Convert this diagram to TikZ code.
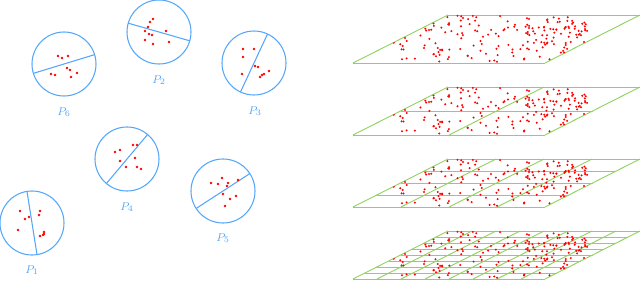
\documentclass[tikz,border=0pt]{standalone}
\usetikzlibrary{positioning}
\usepackage{amsmath}
\definecolor{partcol}{RGB}{85,165,250}
\definecolor{gridcol}{RGB}{145,210,95}

\begin{document}
\begin{tikzpicture}[x=0.025cm,y=0.025cm,
  part/.style={circle,draw=partcol,line width=0.75pt,minimum size=1.6cm,
               inner sep=0pt,outer sep=0pt},
  cut/.style={partcol,line width=0.75pt},
  plabel/.style={font=\footnotesize,text=partcol},
  dot/.style={fill=red},
  gridline/.style={gridcol,line width=0.65pt}]
  \useasboundingbox (0,0) rectangle (640,298);

  % left: the six parts with their cutting lines
  \node[part] (c1) at (32,75) {};
  \node[part] (c2) at (159,266) {};
  \node[part] (c3) at (254,235) {};
  \node[part] (c4) at (127,139) {};
  \node[part] (c5) at (223,107) {};
  \node[part] (c6) at (64,234) {};
  \node[plabel] (l1) at (32,28) {$P_1$};
  \node[plabel] (l2) at (159,218) {$P_2$};
  \node[plabel] (l3) at (255,187) {$P_3$};
  \node[plabel] (l4) at (127,91) {$P_4$};
  \node[plabel] (l5) at (223,60) {$P_5$};
  \node[plabel] (l6) at (64,186) {$P_6$};
  \draw[cut] (c1.99) -- (c1.279);
  \draw[cut] (c2.164) -- (c2.-16);
  \draw[cut] (c3.65) -- (c3.245);
  \draw[cut] (c4.50) -- (c4.230);
  \draw[cut] (c5.33) -- (c5.213);
  \draw[cut] (c6.197) -- (c6.17);

  % points of each part
  \foreach \dx/\dy in {-12/12,8/12,7/8,-3/6,-7/4,-14/-7,8/-13,11/-12,12/-11,12/-9}
    \fill[dot] ([shift={(\dx,\dy)}]c1.center) circle[radius=0.9pt];
  \foreach \dx/\dy in {-6/13,-9/10,-11/5,-14/1,-10/-2,-7/-3,7/1,-14/-8,-6/-12,10/-10}
    \fill[dot] ([shift={(\dx,\dy)}]c2.center) circle[radius=0.9pt];
  \foreach \dx/\dy in {-11/14,0/14,-11/6,1/-3,4/-4,15/-8,10/-11,8/-12,6/-14,-12/-11}
    \fill[dot] ([shift={(\dx,\dy)}]c3.center) circle[radius=0.9pt];
  \foreach \dx/\dy in {6/14,10/14,-7/9,-12/7,8/1,-7/-2,-1/-8,10/-8,14/-10}
    \fill[dot] ([shift={(\dx,\dy)}]c4.center) circle[radius=0.9pt];
  \foreach \dx/\dy in {-1/13,-12/8,-5/7,5/8,4/5,15/11,0/-3,13/-5,7/-8,2/-15}
    \fill[dot] ([shift={(\dx,\dy)}]c5.center) circle[radius=0.9pt];
  \foreach \dx/\dy in {-6/8,-2/6,4/8,3/-4,6/-6,13/-9,-13/-10,-9/-11,7/-13}
    \fill[dot] ([shift={(\dx,\dy)}]c6.center) circle[radius=0.9pt];

  % right: the same points on ever finer grids
  \foreach \n [count=\k] in {1,2,4,8}{
    \pgfmathsetmacro\base{235-72*(\k-1)}
    \begin{scope}[shift={(353,\base)},x={(4.8cm,0cm)},y={(2.375cm,1.2cm)}]
      \foreach \i in {0,...,\n}{
        \draw[gridline] (\i/\n,0) -- (\i/\n,1);
        \draw[gridline] (0,\i/\n) -- (1,\i/\n);
      }
      \begin{scope}
        \clip (0,0) -- (1,0) -- (1,1) -- (0,1) -- cycle;
        \begin{scope}[x=0.025cm,y=0.025cm]
          \pgfmathsetseed{23}
          \foreach \j in {1,...,165}
            \fill[dot] ({40+197*rnd},{0.5+47*rnd}) circle[radius=0.8pt];
          \foreach \j in {1,...,45}
            \fill[dot] ({172+65*rnd},{18+28*rnd}) circle[radius=0.8pt];
        \end{scope}
      \end{scope}
    \end{scope}
  }
\end{tikzpicture}
\end{document}
